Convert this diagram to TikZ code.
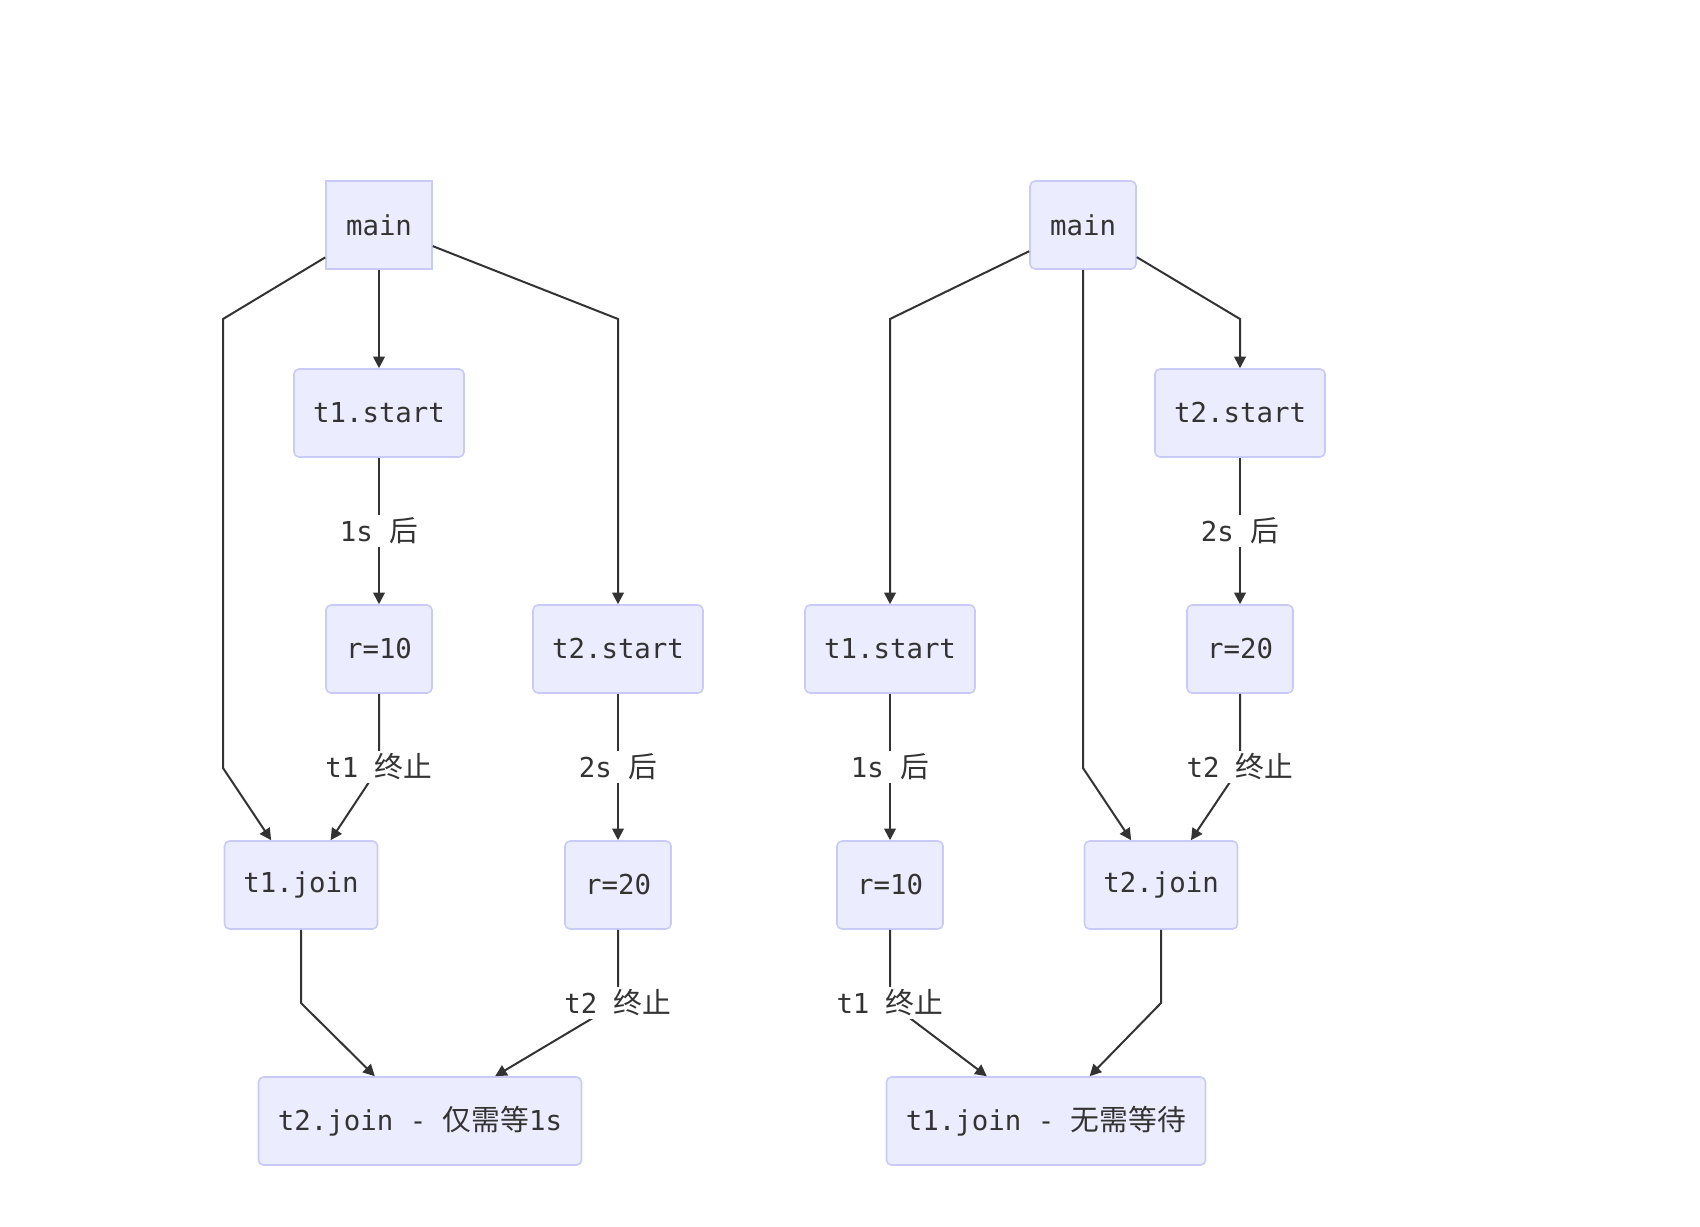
\documentclass[tikz,border=0pt]{standalone}
\usepackage{fontspec}
\setmainfont{DejaVu Sans Mono}
\newfontfamily\cjk[Scale=1.05]{Noto Sans CJK SC}
\usetikzlibrary{arrows.meta}
\definecolor{nodefill}{HTML}{ECECFF}
\definecolor{nodeline}{HTML}{CACAF8}
\definecolor{edgec}{HTML}{333333}
\definecolor{txt}{HTML}{333333}
\begin{document}
\begin{tikzpicture}[x=0.5pt,y=-0.5pt,
  box/.style={draw=nodeline, fill=nodefill, line width=0.8pt, rounded corners=2.5pt,
    minimum height=44pt, inner sep=0pt, text=txt, font=\fontsize{13.7}{15}\selectfont},
  sharpbox/.style={box, sharp corners},
  lbl/.style={fill=white, inner sep=1.5pt, text=txt, font=\fontsize{13.7}{15}\selectfont},
  edge/.style={draw=edgec, line width=1pt, -{Triangle[length=5.8pt,width=5.8pt]}}]
\useasboundingbox (0,0) rectangle (1700,1226);
% left diagram
\node[sharpbox, minimum width=53pt] (Lmain) at (379,225) {main};
\node[box, minimum width=85pt] (Lt1s) at (379,413) {t1.start};
\node[box, minimum width=53pt] (Lr10) at (379,649) {r=10};
\node[box, minimum width=85pt] (Lt2s) at (618,649) {t2.start};
\node[box, minimum width=76.5pt] (Lt1j) at (301,885) {t1.join};
\node[box, minimum width=53pt] (Lr20) at (618,885) {r=20};
\node[box, minimum width=161.5pt] (Lt2j) at (420,1121) {t2.join - {\cjk 仅需等}1s};
% right diagram
\node[box, minimum width=53pt] (Rmain) at (1083,225) {main};
\node[box, minimum width=85pt] (Rt2s) at (1240,413) {t2.start};
\node[box, minimum width=85pt] (Rt1s) at (890,649) {t1.start};
\node[box, minimum width=53pt] (Rr20) at (1240,649) {r=20};
\node[box, minimum width=53pt] (Rr10) at (890,885) {r=10};
\node[box, minimum width=76.5pt] (Rt2j) at (1161,885) {t2.join};
\node[box, minimum width=159.5pt] (Rt1j) at (1046,1121) {t1.join - {\cjk 无需等待}};
% left edges
\draw[edge] (Lmain) -- (223,319) -- (223,768) -- (Lt1j);
\draw[edge] (Lmain) -- (Lt1s);
\draw[edge] (Lmain) -- (618,319) -- (Lt2s);
\draw[edge] (Lt1s) -- (Lr10);
\draw[edge] (Lr10) -- (379,767) -- (Lt1j);
\draw[edge] (Lt2s) -- (Lr20);
\draw[edge] (Lt1j) -- (301,1003) -- (Lt2j);
\draw[edge] (Lr20) -- (618,1003) -- (Lt2j);
% right edges
\draw[edge] (Rmain) -- (890,319) -- (Rt1s);
\draw[edge] (Rmain) -- (1083,768) -- (Rt2j);
\draw[edge] (Rmain) -- (1240,319) -- (Rt2s);
\draw[edge] (Rt2s) -- (Rr20);
\draw[edge] (Rr20) -- (1240,767) -- (Rt2j);
\draw[edge] (Rt1s) -- (Rr10);
\draw[edge] (Rr10) -- (890,1003) -- (Rt1j);
\draw[edge] (Rt2j) -- (1161,1003) -- (Rt1j);
% labels
\node[lbl] (La) at (379,531) {1s {\cjk 后}};
\node[lbl] (Lb) at (379,767) {t1 {\cjk 终止}};
\node[lbl] (Lc) at (618,767) {2s {\cjk 后}};
\node[lbl] (Ld) at (618,1003) {t2 {\cjk 终止}};
\node[lbl] (Ra) at (1240,531) {2s {\cjk 后}};
\node[lbl] (Rb) at (1240,767) {t2 {\cjk 终止}};
\node[lbl] (Rc) at (890,767) {1s {\cjk 后}};
\node[lbl] (Rd) at (890,1003) {t1 {\cjk 终止}};
\end{tikzpicture}
\end{document}
